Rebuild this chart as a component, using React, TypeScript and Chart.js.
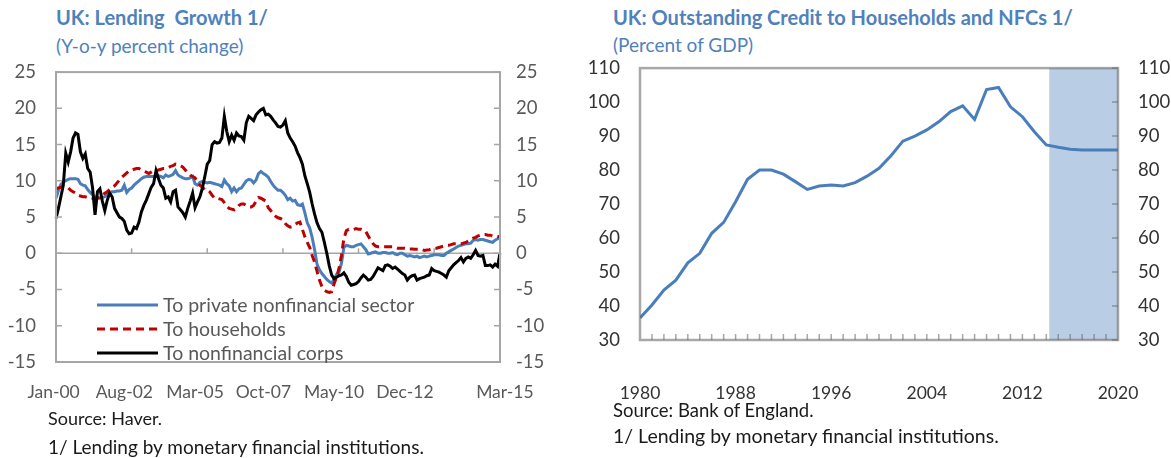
import React, { useEffect, useRef } from "react";
import { Chart, registerables } from "chart.js";

Chart.register(...registerables);

const FONT = "Lato, 'Open Sans', sans-serif";
const TITLE_BLUE = "#4F81BD";
const LINE_BLUE = "#4A7EBB";

// ---------------- Left chart: UK Lending Growth ----------------
const monthNames = ["Jan", "Feb", "Mar", "Apr", "May", "Jun", "Jul", "Aug", "Sep", "Oct", "Nov", "Dec"];
const lendingStartYear = 2000;

const privateSector = [
  7.6, 8.7, 9.5, 9.8, 10.0, 10.2, 10.3, 10.3, 10.3, 10.2, 9.6, 9.4,
  9.3, 8.8, 8.4, 8.1, 7.8, 7.7, 7.6, 7.7, 7.8, 8.1, 8.3, 8.5,
  8.5, 8.6, 8.6, 8.7, 9.4, 8.4, 8.8, 9.0, 9.4, 9.7, 10.0, 10.3,
  10.5, 10.6, 10.6, 10.6, 10.6, 10.6, 10.7, 10.6, 10.4, 10.8, 10.6, 10.7,
  10.9, 11.4, 10.8, 10.6, 10.4, 10.3, 10.3, 10.4, 10.6, 9.6, 9.4, 9.8,
  9.9, 9.8, 9.7, 9.8, 9.7, 9.6, 9.5, 9.4, 9.2, 10.1, 9.6, 9.3,
  8.5, 9.0, 8.5, 8.9, 9.0, 9.5, 10.0, 10.2, 10.1, 9.7, 10.1, 11.0,
  11.3, 11.0, 10.8, 10.5, 9.9, 9.4, 9.0, 8.7, 8.7, 8.4, 8.0, 7.4,
  7.6, 7.2, 7.3, 6.7, 6.6, 6.8, 5.6, 4.2, 3.5, 2.2, 0.5, -1.5,
  -2.3, -2.8, -3.2, -3.6, -3.9, -4.1, -3.6, -2.9, -2.6, -1.4, 0.8, 1.1,
  1.0, 0.9, 0.9, 1.1, 1.2, 1.3, 0.9, 0.5, -0.1, 0.0, 0.1, 0.2,
  0.0, 0.0, 0.1, 0.1, 0.0, 0.0, 0.1, -0.1, -0.2, 0.0, 0.0, -0.2,
  -0.4, -0.3, -0.4, -0.5, -0.4, -0.6, -0.5, -0.4, -0.5, -0.4, -0.3, -0.2,
  -0.2, -0.2, -0.3, -0.3, 0.0, 0.2, 0.4, 0.6, 0.8, 1.0, 1.1, 1.2,
  1.3, 1.3, 1.4, 1.8, 1.9, 1.8, 1.9, 1.9, 1.8, 1.7, 1.6, 1.5,
  1.8, 2.0, 2.1,
];

const households = [
  8.9, 9.0, 9.1, 9.2, 9.1, 9.0, 8.7, 8.5, 8.3, 8.0, 7.9, 7.8,
  7.8, 7.7, 7.7, 7.6, 7.6, 7.6, 7.7, 8.0, 8.3, 8.5, 8.8, 9.1,
  9.3, 9.7, 10.1, 10.5, 10.8, 11.1, 11.4, 11.5, 11.6, 11.7, 11.7, 11.5,
  11.3, 11.2, 11.0, 11.2, 11.4, 11.4, 11.5, 11.6, 11.7, 11.7, 11.8, 12.0,
  12.1, 12.3, 12.2, 12.1, 11.9, 11.5, 11.1, 10.8, 10.6, 10.4, 9.8, 9.4,
  9.1, 8.8, 8.8, 8.5, 8.0, 7.6, 7.6, 7.5, 7.4, 7.0, 6.5, 6.2,
  6.1, 6.0, 6.2, 6.6, 6.8, 6.8, 6.6, 6.4, 6.4, 6.6, 7.2, 7.7,
  7.6, 7.4, 7.2, 6.3, 5.9, 5.4, 5.1, 4.9, 4.8, 4.6, 4.1, 3.8,
  3.6, 3.7, 4.0, 4.2, 4.3, 3.3, 2.3, 1.5, 0.8, -0.3, -1.2, -2.5,
  -3.7, -4.6, -5.1, -5.3, -5.4, -5.3, -4.2, -3.3, -2.1, -0.3, 2.0, 3.1,
  3.3, 3.3, 3.3, 3.4, 3.3, 3.3, 3.1, 3.0, 2.4, 1.8, 1.3, 1.0,
  0.9, 0.9, 0.9, 0.9, 0.9, 0.9, 0.9, 0.8, 0.7, 0.7, 0.7, 0.7,
  0.6, 0.6, 0.6, 0.55, 0.55, 0.55, 0.5, 0.4, 0.45, 0.5, 0.6, 0.7,
  0.7, 0.8, 0.9, 1.0, 1.1, 1.1, 1.2, 1.3, 1.3, 1.3, 1.3, 1.4,
  1.5, 1.7, 1.9, 2.1, 2.2, 2.4, 2.5, 2.6, 2.6, 2.5, 2.5, 2.4,
  2.4, 2.3, 2.3,
];

const nonfinCorps = [
  4.8, 6.2, 7.8, 9.4, 13.8, 12.6, 14.0, 15.9, 16.6, 16.4, 14.0, 13.1,
  13.7, 11.7, 11.2, 9.0, 5.3, 8.5, 8.9, 7.2, 5.9, 7.3, 8.3, 7.8,
  6.2, 5.6, 5.0, 4.8, 4.4, 3.2, 2.7, 2.8, 3.6, 3.4, 4.3, 5.7,
  6.6, 7.3, 8.2, 9.1, 9.6, 11.4, 10.3, 9.4, 9.0, 7.6, 7.8, 7.1,
  8.5, 8.7, 6.4, 6.0, 5.6, 5.0, 6.2, 7.2, 8.3, 6.3, 7.1, 7.8,
  9.0, 10.6, 12.3, 12.8, 15.0, 15.4, 15.2, 15.3, 15.9, 18.9, 16.8, 15.4,
  16.3, 15.6, 16.6, 16.2, 16.1, 15.6, 18.0, 18.9, 18.6, 18.3, 19.1, 19.5,
  19.8, 20.0, 19.1, 19.2, 18.9, 18.4, 18.0, 17.5, 17.4, 17.7, 18.3, 16.6,
  15.9, 15.4, 14.8, 13.9, 13.2, 12.3, 10.7, 9.6, 8.4, 6.8, 5.4, 4.2,
  3.4, 2.9, 1.5, 0.0, -1.7, -3.0, -3.5, -3.3, -3.1, -3.0, -2.7, -3.2,
  -4.0, -4.4, -4.3, -4.2, -3.9, -3.4, -3.0, -3.3, -3.7, -3.6, -3.2, -2.6,
  -2.0, -2.2, -2.4, -1.7, -1.6, -1.8, -2.1, -1.9, -2.2, -2.5, -2.8, -3.0,
  -3.7, -3.3, -3.1, -3.0, -3.7, -3.5, -3.4, -3.3, -3.1, -3.0, -2.1, -2.4,
  -2.5, -2.6, -2.8, -3.0, -3.3, -2.4, -2.0, -1.6, -1.3, -1.0, -0.6, -1.2,
  -0.7, -0.5, -0.7, -0.2, 0.4, -0.3, -0.4, -0.3, -1.7, -1.7, -1.6, -1.9,
  -1.5, -1.8, 0.0,
];

const lendingMonths: string[] = privateSector.map((_, i) => {
  const yr = (lendingStartYear + Math.floor(i / 12)) % 100;
  return `${monthNames[i % 12]}-${String(yr).padStart(2, "0")}`;
});

// axis labels and where they sit along the month axis (as printed in the source chart)
const lendingTickLabels = ["Jan-00", "Aug-02", "Mar-05", "Oct-07", "May-10", "Dec-12", "Mar-15"];
const lendingLabelSlots = [-1, 28, 57, 85, 114, 143, 184];
const lendingSeriesNames = ["To private nonfinancial sector", "To households", "To nonfinancial corps"];
const lendingMin = -15;
const lendingMax = 25;
const lendingStep = 5;

// ---------------- Right chart: Outstanding credit ----------------
const creditYears = [
  1980, 1981, 1982, 1983, 1984, 1985, 1986, 1987, 1988, 1989,
  1990, 1991, 1992, 1993, 1994, 1995, 1996, 1997, 1998, 1999,
  2000, 2001, 2002, 2003, 2004, 2005, 2006, 2007, 2008, 2009,
  2010, 2011, 2012, 2013, 2014, 2015, 2016, 2017, 2018, 2019, 2020,
];
const creditValues = [
  36.5, 40.3, 44.7, 47.6, 52.7, 55.5, 61.4, 64.6, 70.7, 77.3,
  80.0, 80.0, 78.8, 76.6, 74.3, 75.3, 75.6, 75.3, 76.3, 78.2,
  80.5, 84.2, 88.5, 90.0, 91.8, 94.2, 97.2, 98.9, 94.9, 103.7,
  104.3, 98.6, 95.7, 91.3, 87.4, 86.7, 86.1, 85.9, 85.9, 85.9, 85.9,
];
const creditTickYears = [1980, 1988, 1996, 2004, 2012, 2020];
const projectionStart = 2014.25;
const projectionEnd = 2020;
const creditMin = 30;
const creditMax = 110;
const creditStep = 10;

const FRAME = "#A6A6A6";

const lendingPlugin = {
  id: "lendingFrame",
  beforeDatasetsDraw(chart: any) {
    const { ctx, chartArea, scales } = chart;
    const y0 = scales.y.getPixelForValue(0);
    ctx.save();
    ctx.strokeStyle = FRAME;
    ctx.lineWidth = 1.5;
    ctx.beginPath();
    ctx.moveTo(chartArea.left, y0);
    ctx.lineTo(chartArea.right, y0);
    lendingTickLabels.forEach((lab) => {
      const idx = lendingMonths.indexOf(lab);
      if (idx < 0) return;
      const x = scales.x.getPixelForValue(idx);
      ctx.moveTo(x, y0);
      ctx.lineTo(x, y0 - 5);
    });
    ctx.stroke();
    ctx.restore();
  },
  afterDatasetsDraw(chart: any) {
    const { ctx, chartArea, scales } = chart;
    ctx.save();
    ctx.strokeStyle = FRAME;
    ctx.lineWidth = 2;
    ctx.strokeRect(chartArea.left, chartArea.top, chartArea.right - chartArea.left, chartArea.bottom - chartArea.top);
    ctx.lineWidth = 1.5;
    ctx.beginPath();
    scales.y.ticks.forEach((t: any) => {
      const y = scales.y.getPixelForValue(t.value);
      ctx.moveTo(chartArea.left, y);
      ctx.lineTo(chartArea.left + 6, y);
      ctx.moveTo(chartArea.right - 6, y);
      ctx.lineTo(chartArea.right, y);
    });
    ctx.stroke();
    ctx.restore();
  },
  afterDraw(chart: any) {
    const { ctx, chartArea } = chart;
    const x0 = chartArea.left + 41;
    const y0 = chartArea.top + 233;
    ctx.save();
    chart.data.datasets.forEach((ds: any, i: number) => {
      const y = y0 + i * 24;
      ctx.beginPath();
      ctx.setLineDash(ds.borderDash || []);
      ctx.strokeStyle = ds.borderColor;
      ctx.lineWidth = 3;
      ctx.moveTo(x0, y);
      ctx.lineTo(x0 + 61, y);
      ctx.stroke();
      ctx.setLineDash([]);
      ctx.fillStyle = "#595959";
      ctx.font = `19.5px ${FONT}`;
      ctx.textBaseline = "middle";
      ctx.textAlign = "left";
      ctx.fillText(ds.label, x0 + 66, y + 1);
    });
    ctx.restore();
  },
};

const creditPlugin = {
  id: "creditFrame",
  beforeDatasetsDraw(chart: any) {
    const { ctx, chartArea, scales } = chart;
    const xs = scales.x.getPixelForValue(projectionStart);
    const xe = scales.x.getPixelForValue(projectionEnd);
    ctx.save();
    ctx.fillStyle = "#B9CDE5";
    ctx.fillRect(xs, chartArea.top, xe - xs, chartArea.bottom - chartArea.top);
    ctx.restore();
  },
  afterDatasetsDraw(chart: any) {
    const { ctx, chartArea, scales } = chart;
    ctx.save();
    ctx.strokeStyle = "rgba(105,105,105,0.58)";
    ctx.lineWidth = 2.5;
    ctx.strokeRect(chartArea.left, chartArea.top, chartArea.right - chartArea.left, chartArea.bottom - chartArea.top);
    ctx.lineWidth = 1.5;
    ctx.beginPath();
    for (let i = 1; i < creditYears.length - 1; i++) {
      const x = scales.x.getPixelForValue(creditYears[i]);
      ctx.moveTo(x, chartArea.bottom);
      ctx.lineTo(x, chartArea.bottom - 6);
    }
    scales.y.ticks.forEach((t: any) => {
      const y = scales.y.getPixelForValue(t.value);
      ctx.moveTo(chartArea.right - 6, y);
      ctx.lineTo(chartArea.right, y);
    });
    ctx.stroke();
    ctx.restore();
  },
};

function LendingChart() {
  const ref = useRef<HTMLCanvasElement | null>(null);
  useEffect(() => {
    if (!ref.current) return;
    const xFont = { family: FONT, size: 17.5 };
    const yFont = { family: FONT, size: 18.5 };
    const chart = new Chart(ref.current, {
      type: "line",
      data: {
        labels: lendingMonths,
        datasets: [
          { label: lendingSeriesNames[0], data: privateSector, borderColor: LINE_BLUE, borderWidth: 3, pointRadius: 0, tension: 0, order: 2 },
          { label: lendingSeriesNames[1], data: households, borderColor: "#C00000", borderDash: [8, 5], borderWidth: 3, pointRadius: 0, tension: 0, order: 1 },
          { label: lendingSeriesNames[2], data: nonfinCorps, borderColor: "#000000", borderWidth: 3, pointRadius: 0, tension: 0, order: 0 },
        ],
      },
      options: {
        animation: false,
        responsive: false,
        maintainAspectRatio: false,
        layout: { padding: 0 },
        plugins: { legend: { display: false }, tooltip: { enabled: false } },
        scales: {
          x: { type: "category", display: false },
          xl: {
            type: "linear",
            position: "bottom",
            min: 0,
            max: lendingMonths.length - 1,
            afterBuildTicks: (s: any) => { s.ticks = lendingLabelSlots.map((v) => ({ value: v })); },
            grid: { display: true, drawOnChartArea: false, drawTicks: true, tickLength: 14, color: "rgba(0,0,0,0)" },
            border: { display: false },
            ticks: {
              autoSkip: false,
              maxRotation: 0,
              minRotation: 0,
              padding: 6,
              color: "#595959",
              font: xFont,
              callback: (_v: any, i: number) => lendingTickLabels[i],
            },
            afterFit: (s: any) => { s.height = 48; },
          },
          y: {
            position: "left",
            min: lendingMin,
            max: lendingMax,
            grid: { display: false, drawTicks: false },
            border: { display: false },
            ticks: { stepSize: lendingStep, padding: 20, color: "#595959", font: yFont },
            afterFit: (s: any) => { s.width = 56; },
          },
          y2: {
            position: "right",
            min: lendingMin,
            max: lendingMax,
            grid: { display: false, drawTicks: false },
            border: { display: false },
            ticks: { stepSize: lendingStep, padding: 16, color: "#595959", font: yFont },
            afterFit: (s: any) => { s.width = 70; },
          },
        },
      } as any,
      plugins: [lendingPlugin],
    });
    return () => chart.destroy();
  }, []);
  return <canvas ref={ref} width={570} height={369} style={{ position: "absolute", left: 0, top: 41, width: 570, height: 369 }} />;
}

function CreditChart() {
  const ref = useRef<HTMLCanvasElement | null>(null);
  useEffect(() => {
    if (!ref.current) return;
    const xFont = { family: FONT, size: 17.5 };
    const yFont = { family: FONT, size: 18.5 };
    const chart = new Chart(ref.current, {
      type: "line",
      data: {
        datasets: [
          {
            label: "Credit to households and NFCs",
            data: creditYears.map((x, i) => ({ x, y: creditValues[i] })),
            borderColor: LINE_BLUE,
            borderWidth: 3,
            pointRadius: 0,
            tension: 0,
          },
        ],
      },
      options: {
        animation: false,
        responsive: false,
        maintainAspectRatio: false,
        layout: { padding: 0 },
        plugins: { legend: { display: false }, tooltip: { enabled: false } },
        scales: {
          x: {
            type: "linear",
            min: creditYears[0],
            max: creditYears[creditYears.length - 1],
            afterBuildTicks: (s: any) => { s.ticks = creditTickYears.map((v) => ({ value: v })); },
            grid: { display: true, drawOnChartArea: false, drawTicks: true, tickLength: 37, color: "rgba(0,0,0,0)" },
            border: { display: false },
            ticks: { autoSkip: false, maxRotation: 0, padding: 6, color: "#333333", font: xFont, callback: (v: any) => String(v) },
            afterFit: (s: any) => { s.height = 65; },
          },
          y: {
            position: "left",
            min: creditMin,
            max: creditMax,
            grid: { display: false, drawTicks: false },
            border: { display: false },
            ticks: { stepSize: creditStep, padding: 20, color: "#333333", font: yFont },
            afterFit: (s: any) => { s.width = 60; },
          },
          y2: {
            position: "right",
            min: creditMin,
            max: creditMax,
            grid: { display: false, drawTicks: false },
            border: { display: false },
            ticks: { stepSize: creditStep, padding: 20, color: "#333333", font: yFont },
            afterFit: (s: any) => { s.width = 53; },
          },
        },
      } as any,
      plugins: [creditPlugin],
    });
    return () => chart.destroy();
  }, []);
  return <canvas ref={ref} width={591} height={368} style={{ position: "absolute", left: 580, top: 37, width: 591, height: 368 }} />;
}

const textBase: React.CSSProperties = { position: "absolute", fontFamily: FONT, whiteSpace: "nowrap", lineHeight: "24px", margin: 0 };

export default function App() {
  return (
    <div style={{ position: "absolute", left: 0, top: 0, width: 1171, height: 458, background: "#ffffff", overflow: "hidden" }}>
      <div style={{ ...textBase, left: 56, top: 5, fontSize: 20, fontWeight: 700, color: TITLE_BLUE }}>UK: Lending&nbsp; Growth 1/</div>
      <div style={{ ...textBase, left: 56, top: 34, fontSize: 19, color: TITLE_BLUE }}>(Y-o-y percent change)</div>
      <LendingChart />
      <div style={{ ...textBase, left: 48, top: 406, fontSize: 18, color: "#1a1a1a" }}>Source: Haver.</div>
      <div style={{ ...textBase, left: 48, top: 435, fontSize: 19, color: "#1a1a1a" }}>1/ Lending by monetary financial institutions.</div>

      <div style={{ ...textBase, left: 613, top: 5, fontSize: 20, fontWeight: 700, color: TITLE_BLUE }}>UK: Outstanding Credit to Households and NFCs 1/</div>
      <div style={{ ...textBase, left: 613, top: 33, fontSize: 19, color: TITLE_BLUE }}>(Percent of GDP)</div>
      <CreditChart />
      <div style={{ ...textBase, left: 613, top: 398, fontSize: 18.5, color: "#1a1a1a" }}>Source: Bank of England.</div>
      <div style={{ ...textBase, left: 613, top: 424, fontSize: 19.5, color: "#1a1a1a" }}>1/ Lending by monetary financial institutions.</div>
    </div>
  );
}
